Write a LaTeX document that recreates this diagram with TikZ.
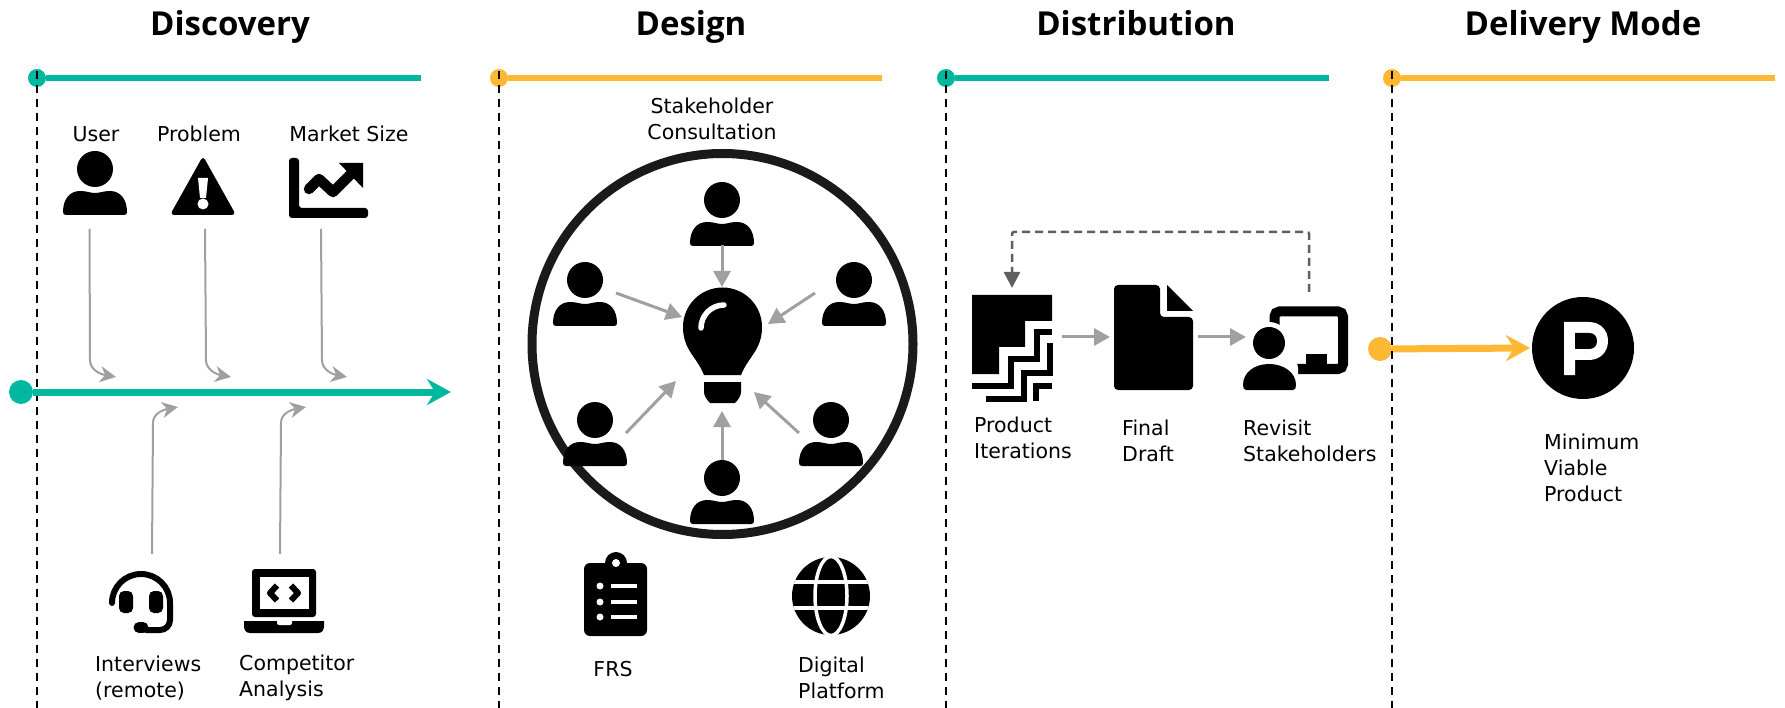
\documentclass[tikz,border=0pt]{standalone}
\usepackage{xcolor}
\usepackage{fontspec}
\usepackage{tikz}
\usetikzlibrary{arrows.meta, positioning, calc}
\setmainfont{DejaVu Sans}
\newfontfamily\titlefont{Open Sans}
\definecolor{railteal}{HTML}{00B8A0}
\definecolor{railorange}{HTML}{FFB833}
\definecolor{linkgray}{HTML}{A0A0A0}
\definecolor{ringblack}{HTML}{1A1A1A}
\definecolor{loopgray}{HTML}{5F5F5F}
\tikzset{
    phasetitle/.style={inner sep=0pt, anchor=base, font=\titlefont\fontsize{33}{38}\selectfont\bfseries},
    itemlabel/.style={inner sep=0pt, align=left, font=\fontsize{20.5}{26}\selectfont},
    railline/.style={line width=6pt},
    raildot/.style={circle, inner sep=0pt, minimum size=18pt},
    startdot/.style={circle, inner sep=0pt, minimum size=24pt},
    flowarrow/.style={line width=7pt, -{Stealth[length=24pt, width=26pt, inset=8pt]}},
    feedarrow/.style={linkgray, line width=2pt, -{Stealth[length=16pt, width=16pt, inset=5pt]}},
    linkarrow/.style={linkgray, line width=3pt, -{Stealth[length=16pt, width=17pt, inset=0pt]}},
}
% head centre is the origin
\newcommand{\personicon}[1]{
    \begin{scope}[shift={(#1)}]
        \fill[white] (0,0) circle[radius=20];
        \fill (0,0) circle[radius=18];
        \fill (-32,43) .. controls (-32,30) and (-25,22) .. (-15,22) .. controls (-8,22) and (-5,24) .. (0,24)
            .. controls (5,24) and (8,22) .. (15,22) .. controls (25,22) and (32,30) .. (32,43)
            .. controls (32,45) and (31,46) .. (29,46) -- (-29,46) .. controls (-31,46) and (-32,45) .. (-32,43) -- cycle;
    \end{scope}
}
\begin{document}
\begin{tikzpicture}[x=1pt, y=-1pt]
    \useasboundingbox (0,0) rectangle (1785,708);
    % Phase titles
    \node[phasetitle] (discovery) at (230,36) {Discovery};
    \node[phasetitle] (design) at (691,36) {Design};
    \node[phasetitle] (distribution) at (1136,36) {Distribution};
    \node[phasetitle] (delivery) at (1583,36) {Delivery Mode};
    % Start of the delivery arrow, under the rail
    \node[startdot, fill=railorange] (mvpstart) at (1380,349) {};
    \coordinate (mvptip) at (1530,348);
    \draw[flowarrow, railorange] (mvpstart) -- (mvptip);
    % Rails and dashed phase borders
    \foreach \x/\xend/\railcolor in {37/421/railteal, 499/882/railorange, 946/1329/railteal, 1392/1775/railorange} {
        \node[raildot, fill=\railcolor] (rail\x) at (\x,78) {};
        \coordinate (railend\x) at (\xend,78);
        \coordinate (railfoot\x) at (\x,708);
        \draw[railline, \railcolor] (rail\x) -- (railend\x);
        \draw[black, line width=2pt, dash pattern=on 8pt off 6pt] (rail\x.north) ++(0,2) -- (railfoot\x);
    }
    % Discovery: top icons
    \node[itemlabel] (userlabel) at (96,134) {User};
    \node[itemlabel] (problemlabel) at (199,134) {Problem};
    \node[itemlabel] (marketlabel) at (349,134) {Market Size};
    \personicon{95,169}
    % warning sign
    \fill[rounded corners=4pt] (203,156) -- (236,215) -- (170,215) -- cycle;
    \fill[white] (198,178) -- (208,178) -- (206,198) -- (200,198) -- cycle;
    \fill[white] (203,204) circle[radius=5.5];
    % market chart
    \fill[rounded corners=3pt] (289,158) -- (299,158) -- (299,208) -- (368,208) -- (368,218) -- (289,218) -- cycle;
    \draw[line width=10.5pt, line join=round, line cap=round] (309,189) -- (319,179) -- (333,192) -- (355,170);
    \fill (339,163) -- (363,163) -- (363,188) -- cycle;
    % Discovery: main arrow
    \node[startdot, fill=railteal] (mainstart) at (21,392) {};
    \coordinate (maintip) at (451,392);
    \draw[flowarrow, railteal] (mainstart) -- (maintip);
    % Discovery: arrows into the main arrow
    \foreach \name/\xa/\xb/\xc in {user/89.5/90/116, problem/205/206/231, market/321/322/347} {
        \coordinate (\name out) at (\xa,229);
        \coordinate (\name in) at (\xc,377);
        \draw[feedarrow] (\name out) -- (\xb,360) .. controls (\xb,369) and (\xb+9,374) .. (\name in);
    }
    \foreach \name/\xa/\xb/\xc in {interview/152/153/178, competitor/280/281/306} {
        \coordinate (\name out) at (\xa,554);
        \coordinate (\name in) at (\xc,407);
        \draw[feedarrow] (\name out) -- (\xb,423) .. controls (\xb,414) and (\xb+9,410) .. (\name in);
    }
    % headset
    \draw[line width=6pt, line cap=round] (112,603) arc[start angle=180, end angle=360, radius=29] -- (170,620)
        arc[start angle=0, end angle=90, radius=10] -- (146,630);
    \fill[rounded corners=5pt] (119,591) rectangle (133,613);
    \fill[rounded corners=5pt] (149,591) rectangle (163,613);
    \draw[line width=11pt, line cap=round] (139,627.5) -- (143,627.5);
    % laptop
    \fill[rounded corners=3pt] (252,569) rectangle (316,617);
    \fill[white] (260,577) rectangle (309,609);
    \draw[line width=6pt, line join=round] (277,585.5) -- (270,593) -- (277,600.5);
    \draw[line width=6pt, line join=round] (291,585.5) -- (298,593) -- (291,600.5);
    \fill (244,621) -- (324,621) -- (324,626) .. controls (324,630) and (322,633) .. (318,633) -- (250,633)
        .. controls (246,633) and (244,630) .. (244,626) -- cycle;
    \fill[white, rounded corners=2pt] (277,619) rectangle (292,625);
    \node[itemlabel, anchor=west] (interviewlabel) at (95,678) {Interviews\\(remote)};
    \node[itemlabel, anchor=west] (competitorlabel) at (239,678) {Competitor\\Analysis};
    % Design: stakeholder ring
    \node[itemlabel, align=center] (stakeholderlabel) at (712,119) {Stakeholder\\Consultation};
    \draw[ringblack, line width=9pt] (722.5,344) circle[radius=190.5];
    \personicon{722,200}
    \personicon{585,280}
    \personicon{854,280}
    \personicon{595,420}
    \personicon{831,420}
    \personicon{722,478}
    % bulb
    \fill (704,375) .. controls (697,357) and (683,350) .. (683,327) arc[start angle=180, end angle=360, radius=39.5]
        .. controls (762,350) and (748,357) .. (741,375) -- cycle;
    \draw[white, line width=5.5pt, line cap=round] (701,328) arc[start angle=180, end angle=270, radius=23];
    \fill (704,382) -- (741,382) -- (741,392) .. controls (741,396) and (738,400) .. (735,403) -- (710,403)
        .. controls (707,400) and (704,396) .. (704,392) -- cycle;
    % Design: arrows to the bulb
    \foreach \name/\xa/\ya/\xb/\yb in {top/722/245/722/287, left/616/293/682/317, right/815/293/768/324,
        lowleft/626/433/676/381, lowright/799/433/754/392, bottom/722/460/722/411} {
        \coordinate (\name out) at (\xa,\ya);
        \coordinate (\name in) at (\xb,\yb);
        \draw[linkarrow] (\name out) -- (\name in);
    }
    % clipboard
    \fill (616,563) circle[radius=11];
    \fill[rounded corners=6pt] (584,563) rectangle (647,636);
    \fill[white] (616,563) circle[radius=4];
    \foreach \y in {586,602,617} {
        \fill[white] (600,\y) circle[radius=3.5];
        \draw[white, line width=4.5pt] (611,\y) -- (637,\y);
    }
    % globe
    \fill (831,596) circle[radius=39];
    \begin{scope}
        \clip (831,596) circle[radius=39];
        \draw[white, line width=3.5pt] (792,582) -- (870,582);
        \draw[white, line width=3.5pt] (792,608) -- (870,608);
    \end{scope}
    \draw[white, line width=3.5pt] (831,596) ellipse[x radius=16, y radius=39.5];
    \node[itemlabel] (frslabel) at (613,669) {FRS};
    \node[itemlabel, anchor=west] (platformlabel) at (798,678) {Digital\\Platform};
    % Distribution: stairs
    \fill (972,295) -- (1052,295) -- (1052,321) -- (1025,321) -- (1025,347) -- (999,347) -- (999,374) -- (972,374) -- cycle;
    \draw[line width=6pt] (972,385.5) -| (1010.5,359) -| (1037,332.5) -- (1052,332.5);
    \draw[line width=6pt] (986,398.5) -| (1023.5,372.5) -| (1049.5,343);
    \draw[line width=6pt] (1036,401) |- (1052,385.5);
    % document
    \fill[rounded corners=4pt] (1114,285) -- (1160,285) -- (1160,317) -- (1193,317) -- (1193,390) -- (1114,390) -- cycle;
    \fill (1167,285) -- (1193,311) -- (1167,311) -- cycle;
    % presenter
    \draw[line width=10pt, rounded corners=5pt] (1274.5,311.5) rectangle (1343,369);
    \fill (1306,354) rectangle (1327,364);
    \fill[white] (1269,343) circle[radius=21];
    \fill[white, rounded corners=10pt] (1237,358) rectangle (1298,395);
    \fill (1269,343) circle[radius=16];
    \fill (1243,385) .. controls (1243,372) and (1255,364) .. (1269,364) .. controls (1283,364) and (1296,372) .. (1296,385)
        .. controls (1296,388) and (1295,390) .. (1293,390) -- (1246,390) .. controls (1244,390) and (1243,388) .. (1243,385) -- cycle;
    % Distribution: arrows
    \coordinate (stairsout) at (1062,337);
    \coordinate (draftin) at (1110,337);
    \coordinate (draftout) at (1198,337);
    \coordinate (revisitin) at (1246,337);
    \draw[linkarrow] (stairsout) -- (draftin);
    \draw[linkarrow] (draftout) -- (revisitin);
    \coordinate (loopout) at (1309,292);
    \coordinate (loopin) at (1012,288);
    \draw[loopgray, line width=2.5pt, dash pattern=on 8pt off 5pt, rounded corners=2pt, -{Stealth[length=16pt, width=16pt, inset=0pt]}]
        (loopout) |- (1012,232) -- (loopin);
    \node[itemlabel, anchor=west] (stairslabel) at (974,438) {Product\\Iterations};
    \node[itemlabel, anchor=west] (draftlabel) at (1122,441) {Final\\Draft};
    \node[itemlabel, anchor=west] (revisitlabel) at (1243,441) {Revisit\\Stakeholders};
    % Delivery mode
    \node[circle, fill=black, inner sep=0pt, minimum size=102pt] (mvp) at (1583,348) {};
    \fill[white] (1564,322) -- (1589,322) .. controls (1600,322) and (1608,330) .. (1608,341) .. controls (1608,352) and (1600,360) .. (1589,360)
        -- (1575,360) -- (1575,375) -- (1564,375) -- cycle;
    \fill (1575,333) -- (1589,333) .. controls (1594,333) and (1597,336) .. (1597,341) .. controls (1597,346) and (1594,349) .. (1589,349) -- (1575,349) -- cycle;
    \node[itemlabel, anchor=west] (mvplabel) at (1544,468) {Minimum\\Viable\\Product};
\end{tikzpicture}
\end{document}
